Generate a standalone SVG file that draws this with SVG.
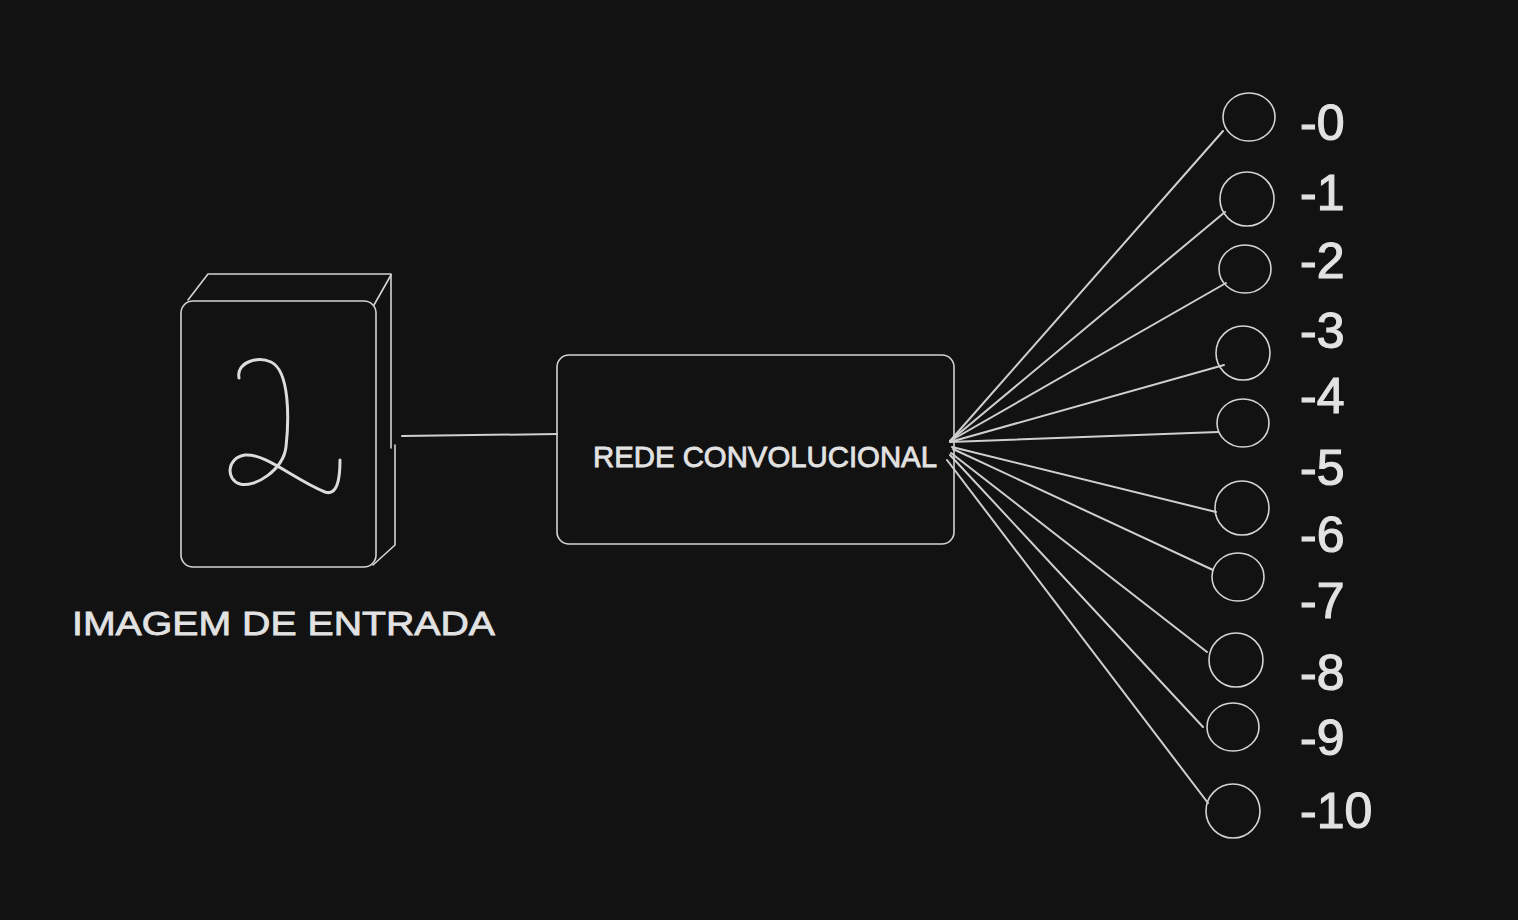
<svg xmlns="http://www.w3.org/2000/svg" width="1518" height="920" viewBox="0 0 1518 920">
<style>
.s{fill:none;stroke:#d4d4d4;stroke-width:1.6;stroke-linecap:round;stroke-linejoin:round}
.c{fill:none;stroke:#cfcfcf;stroke-width:2;stroke-linecap:round}
.t{fill:#e2e2e2;stroke:#e2e2e2;stroke-width:0.8;font-family:"Liberation Sans",Arial,sans-serif}
.lbl{font-size:50px;stroke-width:1.2}
</style>
<rect width="1518" height="920" fill="#121212"/>
<g id="input-image">
<path class="s" d="M188,300 L208,274 L391,274 L391,448"/>
<path class="s" d="M374,305 L391,275"/>
<path class="s" d="M395,445 L395,545 L373,565"/>
<rect class="s" x="181" y="301" width="195" height="266" rx="12"/>
<path d="M239,378 C236,362 258,356 271,362 C290,371 289,420 286,447 C283,470 255,488 240,484 C226,480 226,458 245,455 C265,453 295,480 325,492 C337,496 340,480 340,460" fill="none" stroke="#dcdcdc" stroke-width="3" stroke-linecap="round" stroke-linejoin="round"/>
<text class="t" x="72" y="635" font-size="34" textLength="423" lengthAdjust="spacingAndGlyphs">IMAGEM DE ENTRADA</text>
</g>
<g id="cnn">
<rect class="s" x="557" y="355" width="397" height="189" rx="12"/>
<text class="t" x="593" y="467" font-size="29" textLength="344" lengthAdjust="spacingAndGlyphs">REDE CONVOLUCIONAL</text>
</g>
<g id="outputs">
<ellipse class="s" cx="1249" cy="117" rx="26" ry="24"/>
<ellipse class="s" cx="1247" cy="199" rx="27" ry="27"/>
<ellipse class="s" cx="1245" cy="269" rx="26" ry="24"/>
<ellipse class="s" cx="1243" cy="353" rx="27" ry="27"/>
<ellipse class="s" cx="1243" cy="423" rx="26" ry="24"/>
<ellipse class="s" cx="1242" cy="508" rx="27" ry="27"/>
<ellipse class="s" cx="1238" cy="577" rx="26" ry="24"/>
<ellipse class="s" cx="1236" cy="660" rx="27" ry="27"/>
<ellipse class="s" cx="1233" cy="727" rx="26" ry="24"/>
<ellipse class="s" cx="1233" cy="811" rx="27" ry="27"/>
</g>
<g id="labels" class="t lbl">
<text x="1300" y="140">-0</text>
<text x="1300" y="210">-1</text>
<text x="1300" y="278">-2</text>
<text x="1300" y="348">-3</text>
<text x="1300" y="413">-4</text>
<text x="1300" y="485">-5</text>
<text x="1300" y="552">-6</text>
<text x="1300" y="618">-7</text>
<text x="1300" y="690">-8</text>
<text x="1300" y="755">-9</text>
<text x="1300" y="828">-10</text>
</g>
<g id="connectors">
<line class="c" x1="402" y1="436" x2="557" y2="434"/>
<line class="c" x1="950" y1="441" x2="1223" y2="131"/>
<line class="c" x1="950" y1="441" x2="1225" y2="212"/>
<line class="c" x1="950" y1="441" x2="1226" y2="283"/>
<line class="c" x1="950" y1="442" x2="1224" y2="365"/>
<line class="c" x1="950" y1="442" x2="1218" y2="432"/>
<line class="c" x1="952" y1="447" x2="1216" y2="512"/>
<line class="c" x1="953" y1="449" x2="1213" y2="570"/>
<line class="c" x1="951" y1="453" x2="1207" y2="652"/>
<line class="c" x1="950" y1="455" x2="1203" y2="727"/>
<line class="c" x1="947" y1="460" x2="1208" y2="803"/>
</g>
</svg>
